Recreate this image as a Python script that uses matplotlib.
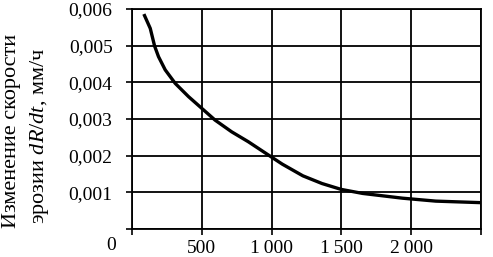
import matplotlib
matplotlib.use("Agg")
import matplotlib.pyplot as plt

plt.rcParams['font.family'] = ['Liberation Serif', 'DejaVu Serif']
plt.rcParams['mathtext.fontset'] = 'custom'
plt.rcParams['mathtext.it'] = 'Liberation Serif:italic'
plt.rcParams['mathtext.rm'] = 'Liberation Serif'

# curve
t = [90, 131, 162, 190, 238, 310, 405, 512, 595, 714, 833, 1000, 1076, 1224, 1361, 1498, 1652, 1938, 2176, 2486]
dRdt = [0.00582, 0.00547, 0.00499, 0.00470, 0.00434, 0.00397, 0.00361, 0.00325, 0.00297, 0.00265,
        0.00238, 0.00196, 0.00177, 0.00145, 0.00124, 0.00108, 0.00097, 0.00084, 0.00076, 0.00072]

xticks = [0, 500, 1000, 1500, 2000, 2500]
xlabels = ['', '500', '1\u2009000', '1\u2009500', '2\u2009000', '']
yticks = [0, 0.001, 0.002, 0.003, 0.004, 0.005, 0.006]
ylabels = ['', '0,001', '0,002', '0,003', '0,004', '0,005', '0,006']

fig = plt.figure(figsize=(4.93, 2.57), dpi=100)
ax = fig.add_axes([0.2677, 0.109, 0.708, 0.856])

ax.plot(t, dRdt, color='black', lw=2.4, solid_joinstyle='round')

ax.set_xlim(0, 2500)
ax.set_ylim(0, 0.006)
ax.set_xticks(xticks)
ax.set_xticklabels(xlabels)
ax.set_yticks(yticks)
ax.set_yticklabels(ylabels)
ax.tick_params(labelsize=14, length=4, width=1.2, color='black', pad=4)
ax.tick_params(axis='y', pad=10)
ax.grid(True, color='black', lw=1.3)
for s in ax.spines.values():
    s.set_color('black')
    s.set_linewidth(1.3)

ax.annotate('0', xy=(0, 0), xycoords='axes fraction', xytext=(-15, -12),
            textcoords='offset points', fontsize=14, ha='center', va='center')

fig.text(0.024, 0.492, 'Изменение скорости', rotation=90, fontsize=16, ha='center', va='center')
fig.text(0.081, 0.47, 'эрозии $dR/dt$, мм/ч', rotation=90, fontsize=16, ha='center', va='center')

fig.savefig('out.png', dpi=100)
